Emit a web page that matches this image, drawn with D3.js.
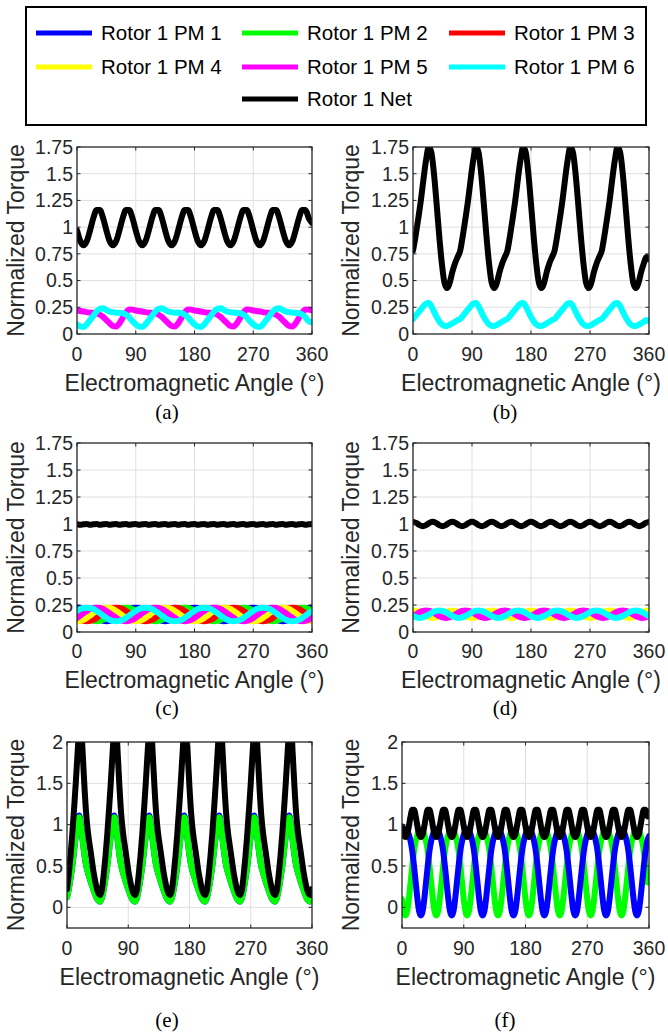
<!DOCTYPE html>
<html><head><meta charset="utf-8">
<script src="https://cdn.jsdelivr.net/npm/d3@7"></script>
<style>
body{margin:0;background:#fff;}
svg{display:block;}
</style></head><body>
<svg id="fig" width="668" height="1032"></svg>
<script>
// ---- legend entries ----
const seriesNames  = ["Rotor 1 PM 1","Rotor 1 PM 2","Rotor 1 PM 3","Rotor 1 PM 4","Rotor 1 PM 5","Rotor 1 PM 6","Rotor 1 Net"];
const seriesColors = ["#0000ff","#00ff00","#ff0000","#ffff00","#ff00ff","#00ffff","#000000"];

// ---- axis ticks ----
const xTicks = [0, 90, 180, 270, 360];
const yTicksFine = [0, 0.25, 0.5, 0.75, 1, 1.25, 1.5, 1.75];
const yTicksCoarse = [0, 0.5, 1, 1.5, 2];

// ---- sample angles (electrical degrees) ----
const angA = d3.range(0, 361, 5);
const angB = d3.range(0, 361, 4);
const angC = d3.range(0, 361, 5);
const angD = d3.range(0, 361, 5);
const angE = d3.range(0, 141).map(i => i * 360 / 140);
const angF = d3.range(0, 361, 2.5);

// ---- (a) ----
const aPM5 = [
 0.22,0.215,0.21,0.205,0.2,0.2,0.195,0.18,0.16,0.13,0.1,0.075,0.07,0.1,0.15,0.2,0.23,0.228,
 0.22,0.215,0.21,0.205,0.2,0.2,0.195,0.18,0.16,0.13,0.1,0.075,0.07,0.1,0.15,0.2,0.23,0.228,
 0.22,0.215,0.21,0.205,0.2,0.2,0.195,0.18,0.16,0.13,0.1,0.075,0.07,0.1,0.15,0.2,0.23,0.228,
 0.22,0.215,0.21,0.205,0.2,0.2,0.195,0.18,0.16,0.13,0.1,0.075,0.07,0.1,0.15,0.2,0.23,0.228,
 0.22];
const aPM6 = [
 0.09,0.07,0.065,0.09,0.13,0.17,0.21,0.235,0.24,0.225,0.21,0.205,0.2,0.2,0.195,0.18,0.155,0.12,
 0.09,0.07,0.065,0.09,0.13,0.17,0.21,0.235,0.24,0.225,0.21,0.205,0.2,0.2,0.195,0.18,0.155,0.12,
 0.09,0.07,0.065,0.09,0.13,0.17,0.21,0.235,0.24,0.225,0.21,0.205,0.2,0.2,0.195,0.18,0.155,0.12,
 0.09,0.07,0.065,0.09,0.13,0.17,0.21,0.235,0.24,0.225,0.21,0.205,0.2,0.2,0.195,0.18,0.155,0.12,
 0.11];
const aNet = [
 0.97,0.87,0.83,0.87,0.97,1.085,1.16,1.16,1.085,
 0.97,0.87,0.83,0.87,0.97,1.085,1.16,1.16,1.085,
 0.97,0.87,0.83,0.87,0.97,1.085,1.16,1.16,1.085,
 0.97,0.87,0.83,0.87,0.97,1.085,1.16,1.16,1.085,
 0.97,0.87,0.83,0.87,0.97,1.085,1.16,1.16,1.085,
 0.97,0.87,0.83,0.87,0.97,1.085,1.16,1.16,1.085,
 0.97,0.87,0.83,0.87,0.97,1.085,1.16,1.16,1.085,
 0.97,0.87,0.83,0.87,0.97,1.085,1.16,1.16,1.085,
 1.04];

// ---- (b) ----
const bPM6 = [
 0.14,0.17,0.2,0.23,0.26,0.285,0.29,0.26,0.21,0.16,0.12,0.09,0.075,0.075,0.085,0.1,0.115,0.13,
 0.14,0.17,0.2,0.23,0.26,0.285,0.29,0.26,0.21,0.16,0.12,0.09,0.075,0.075,0.085,0.1,0.115,0.13,
 0.14,0.17,0.2,0.23,0.26,0.285,0.29,0.26,0.21,0.16,0.12,0.09,0.075,0.075,0.085,0.1,0.115,0.13,
 0.14,0.17,0.2,0.23,0.26,0.285,0.29,0.26,0.21,0.16,0.12,0.09,0.075,0.075,0.085,0.1,0.115,0.13,
 0.14,0.17,0.2,0.23,0.26,0.285,0.29,0.26,0.21,0.16,0.12,0.09,0.075,0.075,0.085,0.1,0.115,0.13,
 0.12];
const bNet = [
 0.78,0.92,1.08,1.25,1.45,1.63,1.75,1.7,1.5,1.22,0.92,0.66,0.48,0.43,0.48,0.58,0.66,0.72,
 0.78,0.92,1.08,1.25,1.45,1.63,1.75,1.7,1.5,1.22,0.92,0.66,0.48,0.43,0.48,0.58,0.66,0.72,
 0.78,0.92,1.08,1.25,1.45,1.63,1.75,1.7,1.5,1.22,0.92,0.66,0.48,0.43,0.48,0.58,0.66,0.72,
 0.78,0.92,1.08,1.25,1.45,1.63,1.75,1.7,1.5,1.22,0.92,0.66,0.48,0.43,0.48,0.58,0.66,0.72,
 0.78,0.92,1.08,1.25,1.45,1.63,1.75,1.7,1.5,1.22,0.92,0.66,0.48,0.43,0.48,0.58,0.66,0.72,
 0.7];

// ---- (c) ----
const cPM1 = [
 0.225,0.222,0.212,0.195,0.175,0.152,0.13,0.113,0.103,0.1,0.103,0.113,0.13,0.152,0.175,0.195,0.212,0.222,
 0.225,0.222,0.212,0.195,0.175,0.152,0.13,0.113,0.103,0.1,0.103,0.113,0.13,0.152,0.175,0.195,0.212,0.222,
 0.225,0.222,0.212,0.195,0.175,0.152,0.13,0.113,0.103,0.1,0.103,0.113,0.13,0.152,0.175,0.195,0.212,0.222,
 0.225,0.222,0.212,0.195,0.175,0.152,0.13,0.113,0.103,0.1,0.103,0.113,0.13,0.152,0.175,0.195,0.212,0.222,
 0.225];
const cPM2 = [
 0.195,0.175,0.152,0.13,0.113,0.103,0.1,0.103,0.113,0.13,0.152,0.175,0.195,0.212,0.222,0.225,0.222,0.212,
 0.195,0.175,0.152,0.13,0.113,0.103,0.1,0.103,0.113,0.13,0.152,0.175,0.195,0.212,0.222,0.225,0.222,0.212,
 0.195,0.175,0.152,0.13,0.113,0.103,0.1,0.103,0.113,0.13,0.152,0.175,0.195,0.212,0.222,0.225,0.222,0.212,
 0.195,0.175,0.152,0.13,0.113,0.103,0.1,0.103,0.113,0.13,0.152,0.175,0.195,0.212,0.222,0.225,0.222,0.212,
 0.195];
const cPM3 = [
 0.13,0.113,0.103,0.1,0.103,0.113,0.13,0.152,0.175,0.195,0.212,0.222,0.225,0.222,0.212,0.195,0.175,0.152,
 0.13,0.113,0.103,0.1,0.103,0.113,0.13,0.152,0.175,0.195,0.212,0.222,0.225,0.222,0.212,0.195,0.175,0.152,
 0.13,0.113,0.103,0.1,0.103,0.113,0.13,0.152,0.175,0.195,0.212,0.222,0.225,0.222,0.212,0.195,0.175,0.152,
 0.13,0.113,0.103,0.1,0.103,0.113,0.13,0.152,0.175,0.195,0.212,0.222,0.225,0.222,0.212,0.195,0.175,0.152,
 0.13];
const cPM4 = [
 0.1,0.103,0.113,0.13,0.152,0.175,0.195,0.212,0.222,0.225,0.222,0.212,0.195,0.175,0.152,0.13,0.113,0.103,
 0.1,0.103,0.113,0.13,0.152,0.175,0.195,0.212,0.222,0.225,0.222,0.212,0.195,0.175,0.152,0.13,0.113,0.103,
 0.1,0.103,0.113,0.13,0.152,0.175,0.195,0.212,0.222,0.225,0.222,0.212,0.195,0.175,0.152,0.13,0.113,0.103,
 0.1,0.103,0.113,0.13,0.152,0.175,0.195,0.212,0.222,0.225,0.222,0.212,0.195,0.175,0.152,0.13,0.113,0.103,
 0.1];
const cPM5 = [
 0.13,0.152,0.175,0.195,0.212,0.222,0.225,0.222,0.212,0.195,0.175,0.152,0.13,0.113,0.103,0.1,0.103,0.113,
 0.13,0.152,0.175,0.195,0.212,0.222,0.225,0.222,0.212,0.195,0.175,0.152,0.13,0.113,0.103,0.1,0.103,0.113,
 0.13,0.152,0.175,0.195,0.212,0.222,0.225,0.222,0.212,0.195,0.175,0.152,0.13,0.113,0.103,0.1,0.103,0.113,
 0.13,0.152,0.175,0.195,0.212,0.222,0.225,0.222,0.212,0.195,0.175,0.152,0.13,0.113,0.103,0.1,0.103,0.113,
 0.13];
const cPM6 = [
 0.195,0.212,0.222,0.225,0.222,0.212,0.195,0.175,0.152,0.13,0.113,0.103,0.1,0.103,0.113,0.13,0.152,0.175,
 0.195,0.212,0.222,0.225,0.222,0.212,0.195,0.175,0.152,0.13,0.113,0.103,0.1,0.103,0.113,0.13,0.152,0.175,
 0.195,0.212,0.222,0.225,0.222,0.212,0.195,0.175,0.152,0.13,0.113,0.103,0.1,0.103,0.113,0.13,0.152,0.175,
 0.195,0.212,0.222,0.225,0.222,0.212,0.195,0.175,0.152,0.13,0.113,0.103,0.1,0.103,0.113,0.13,0.152,0.175,
 0.195];
const cNet = [
 1.0,0.993,0.997,1.0,0.993,0.997,1.0,0.993,0.997,1.0,0.993,0.997,1.0,0.993,0.997,1.0,0.993,0.997,
 1.0,0.993,0.997,1.0,0.993,0.997,1.0,0.993,0.997,1.0,0.993,0.997,1.0,0.993,0.997,1.0,0.993,0.997,
 1.0,0.993,0.997,1.0,0.993,0.997,1.0,0.993,0.997,1.0,0.993,0.997,1.0,0.993,0.997,1.0,0.993,0.997,
 1.0,0.993,0.997,1.0,0.993,0.997,1.0,0.993,0.997,1.0,0.993,0.997,1.0,0.993,0.997,1.0,0.993,0.997,
 1.0];

// ---- (d) ----
const dPM4 = [
 0.2,0.195,0.183,0.165,0.148,0.135,0.13,0.135,0.148,0.165,0.183,0.195,
 0.2,0.195,0.183,0.165,0.148,0.135,0.13,0.135,0.148,0.165,0.183,0.195,
 0.2,0.195,0.183,0.165,0.148,0.135,0.13,0.135,0.148,0.165,0.183,0.195,
 0.2,0.195,0.183,0.165,0.148,0.135,0.13,0.135,0.148,0.165,0.183,0.195,
 0.2,0.195,0.183,0.165,0.148,0.135,0.13,0.135,0.148,0.165,0.183,0.195,
 0.2,0.195,0.183,0.165,0.148,0.135,0.13,0.135,0.148,0.165,0.183,0.195,
 0.2];
const dPM5 = [
 0.148,0.165,0.183,0.195,0.2,0.195,0.183,0.165,0.148,0.135,0.13,0.135,
 0.148,0.165,0.183,0.195,0.2,0.195,0.183,0.165,0.148,0.135,0.13,0.135,
 0.148,0.165,0.183,0.195,0.2,0.195,0.183,0.165,0.148,0.135,0.13,0.135,
 0.148,0.165,0.183,0.195,0.2,0.195,0.183,0.165,0.148,0.135,0.13,0.135,
 0.148,0.165,0.183,0.195,0.2,0.195,0.183,0.165,0.148,0.135,0.13,0.135,
 0.148,0.165,0.183,0.195,0.2,0.195,0.183,0.165,0.148,0.135,0.13,0.135,
 0.148];
const dPM6 = [
 0.148,0.135,0.13,0.135,0.148,0.165,0.183,0.195,0.2,0.195,0.183,0.165,
 0.148,0.135,0.13,0.135,0.148,0.165,0.183,0.195,0.2,0.195,0.183,0.165,
 0.148,0.135,0.13,0.135,0.148,0.165,0.183,0.195,0.2,0.195,0.183,0.165,
 0.148,0.135,0.13,0.135,0.148,0.165,0.183,0.195,0.2,0.195,0.183,0.165,
 0.148,0.135,0.13,0.135,0.148,0.165,0.183,0.195,0.2,0.195,0.183,0.165,
 0.148,0.135,0.13,0.135,0.148,0.165,0.183,0.195,0.2,0.195,0.183,0.165,
 0.148];
const dNet = [
 1.02,1.01,0.99,0.98,0.99,1.01, 1.02,1.01,0.99,0.98,0.99,1.01, 1.02,1.01,0.99,0.98,0.99,1.01,
 1.02,1.01,0.99,0.98,0.99,1.01, 1.02,1.01,0.99,0.98,0.99,1.01, 1.02,1.01,0.99,0.98,0.99,1.01,
 1.02,1.01,0.99,0.98,0.99,1.01, 1.02,1.01,0.99,0.98,0.99,1.01, 1.02,1.01,0.99,0.98,0.99,1.01,
 1.02,1.01,0.99,0.98,0.99,1.01, 1.02,1.01,0.99,0.98,0.99,1.01, 1.02,1.01,0.99,0.98,0.99,1.01,
 1.02];

// ---- (e) ----
const ePM1 = [
 0.12,0.22,0.35,0.5,0.68,0.87,1.03,1.11,0.99,0.8,0.63,0.5,0.42,0.35,0.28,0.22,0.16,0.11,0.08,0.07,
 0.12,0.22,0.35,0.5,0.68,0.87,1.03,1.11,0.99,0.8,0.63,0.5,0.42,0.35,0.28,0.22,0.16,0.11,0.08,0.07,
 0.12,0.22,0.35,0.5,0.68,0.87,1.03,1.11,0.99,0.8,0.63,0.5,0.42,0.35,0.28,0.22,0.16,0.11,0.08,0.07,
 0.12,0.22,0.35,0.5,0.68,0.87,1.03,1.11,0.99,0.8,0.63,0.5,0.42,0.35,0.28,0.22,0.16,0.11,0.08,0.07,
 0.12,0.22,0.35,0.5,0.68,0.87,1.03,1.11,0.99,0.8,0.63,0.5,0.42,0.35,0.28,0.22,0.16,0.11,0.08,0.07,
 0.12,0.22,0.35,0.5,0.68,0.87,1.03,1.11,0.99,0.8,0.63,0.5,0.42,0.35,0.28,0.22,0.16,0.11,0.08,0.07,
 0.12,0.22,0.35,0.5,0.68,0.87,1.03,1.11,0.99,0.8,0.63,0.5,0.42,0.35,0.28,0.22,0.16,0.11,0.08,0.07,
 0.12];
const ePM2 = [
 0.12,0.22,0.35,0.5,0.68,0.86,1.02,1.09,0.98,0.8,0.63,0.5,0.42,0.35,0.28,0.22,0.16,0.11,0.08,0.07,
 0.12,0.22,0.35,0.5,0.68,0.86,1.02,1.09,0.98,0.8,0.63,0.5,0.42,0.35,0.28,0.22,0.16,0.11,0.08,0.07,
 0.12,0.22,0.35,0.5,0.68,0.86,1.02,1.09,0.98,0.8,0.63,0.5,0.42,0.35,0.28,0.22,0.16,0.11,0.08,0.07,
 0.12,0.22,0.35,0.5,0.68,0.86,1.02,1.09,0.98,0.8,0.63,0.5,0.42,0.35,0.28,0.22,0.16,0.11,0.08,0.07,
 0.12,0.22,0.35,0.5,0.68,0.86,1.02,1.09,0.98,0.8,0.63,0.5,0.42,0.35,0.28,0.22,0.16,0.11,0.08,0.07,
 0.12,0.22,0.35,0.5,0.68,0.86,1.02,1.09,0.98,0.8,0.63,0.5,0.42,0.35,0.28,0.22,0.16,0.11,0.08,0.07,
 0.12,0.22,0.35,0.5,0.68,0.86,1.02,1.09,0.98,0.8,0.63,0.5,0.42,0.35,0.28,0.22,0.16,0.11,0.08,0.07,
 0.12];
const eNet = [
 0.22,0.4,0.62,0.88,1.18,1.5,1.85,2.15,2.2,1.85,1.45,1.12,0.9,0.75,0.6,0.45,0.33,0.23,0.17,0.15,
 0.22,0.4,0.62,0.88,1.18,1.5,1.85,2.15,2.2,1.85,1.45,1.12,0.9,0.75,0.6,0.45,0.33,0.23,0.17,0.15,
 0.22,0.4,0.62,0.88,1.18,1.5,1.85,2.15,2.2,1.85,1.45,1.12,0.9,0.75,0.6,0.45,0.33,0.23,0.17,0.15,
 0.22,0.4,0.62,0.88,1.18,1.5,1.85,2.15,2.2,1.85,1.45,1.12,0.9,0.75,0.6,0.45,0.33,0.23,0.17,0.15,
 0.22,0.4,0.62,0.88,1.18,1.5,1.85,2.15,2.2,1.85,1.45,1.12,0.9,0.75,0.6,0.45,0.33,0.23,0.17,0.15,
 0.22,0.4,0.62,0.88,1.18,1.5,1.85,2.15,2.2,1.85,1.45,1.12,0.9,0.75,0.6,0.45,0.33,0.23,0.17,0.15,
 0.22,0.4,0.62,0.88,1.18,1.5,1.85,2.15,2.2,1.85,1.45,1.12,0.9,0.75,0.6,0.45,0.33,0.23,0.17,0.15,
 0.22];

// ---- (f) ----
const fPM1 = [
 0.88,0.93,0.95,0.93,0.88,0.8,0.68,0.5,0.3,0.1,-0.05,-0.1,-0.05,0.1,0.3,0.5,0.68,0.8,
 0.88,0.93,0.95,0.93,0.88,0.8,0.68,0.5,0.3,0.1,-0.05,-0.1,-0.05,0.1,0.3,0.5,0.68,0.8,
 0.88,0.93,0.95,0.93,0.88,0.8,0.68,0.5,0.3,0.1,-0.05,-0.1,-0.05,0.1,0.3,0.5,0.68,0.8,
 0.88,0.93,0.95,0.93,0.88,0.8,0.68,0.5,0.3,0.1,-0.05,-0.1,-0.05,0.1,0.3,0.5,0.68,0.8,
 0.88,0.93,0.95,0.93,0.88,0.8,0.68,0.5,0.3,0.1,-0.05,-0.1,-0.05,0.1,0.3,0.5,0.68,0.8,
 0.88,0.93,0.95,0.93,0.88,0.8,0.68,0.5,0.3,0.1,-0.05,-0.1,-0.05,0.1,0.3,0.5,0.68,0.8,
 0.88,0.93,0.95,0.93,0.88,0.8,0.68,0.5,0.3,0.1,-0.05,-0.1,-0.05,0.1,0.3,0.5,0.68,0.8,
 0.88,0.93,0.95,0.93,0.88,0.8,0.68,0.5,0.3,0.1,-0.05,-0.1,-0.05,0.1,0.3,0.5,0.68,0.8,
 0.86];
const fPM2 = [
 0.1,-0.05,-0.1,-0.05,0.1,0.3,0.5,0.68,0.8,0.88,0.93,0.95,0.93,0.88,0.8,0.68,0.5,0.3,
 0.1,-0.05,-0.1,-0.05,0.1,0.3,0.5,0.68,0.8,0.88,0.93,0.95,0.93,0.88,0.8,0.68,0.5,0.3,
 0.1,-0.05,-0.1,-0.05,0.1,0.3,0.5,0.68,0.8,0.88,0.93,0.95,0.93,0.88,0.8,0.68,0.5,0.3,
 0.1,-0.05,-0.1,-0.05,0.1,0.3,0.5,0.68,0.8,0.88,0.93,0.95,0.93,0.88,0.8,0.68,0.5,0.3,
 0.1,-0.05,-0.1,-0.05,0.1,0.3,0.5,0.68,0.8,0.88,0.93,0.95,0.93,0.88,0.8,0.68,0.5,0.3,
 0.1,-0.05,-0.1,-0.05,0.1,0.3,0.5,0.68,0.8,0.88,0.93,0.95,0.93,0.88,0.8,0.68,0.5,0.3,
 0.1,-0.05,-0.1,-0.05,0.1,0.3,0.5,0.68,0.8,0.88,0.93,0.95,0.93,0.88,0.8,0.68,0.5,0.3,
 0.1,-0.05,-0.1,-0.05,0.1,0.3,0.5,0.68,0.8,0.88,0.93,0.95,0.93,0.88,0.8,0.68,0.5,0.3,
 0.3];
const fNet = [
 0.98,0.88,0.85,0.88,0.98,1.1,1.18,1.18,1.1,0.98,0.88,0.85,0.88,0.98,1.1,1.18,1.18,1.1,
 0.98,0.88,0.85,0.88,0.98,1.1,1.18,1.18,1.1,0.98,0.88,0.85,0.88,0.98,1.1,1.18,1.18,1.1,
 0.98,0.88,0.85,0.88,0.98,1.1,1.18,1.18,1.1,0.98,0.88,0.85,0.88,0.98,1.1,1.18,1.18,1.1,
 0.98,0.88,0.85,0.88,0.98,1.1,1.18,1.18,1.1,0.98,0.88,0.85,0.88,0.98,1.1,1.18,1.18,1.1,
 0.98,0.88,0.85,0.88,0.98,1.1,1.18,1.18,1.1,0.98,0.88,0.85,0.88,0.98,1.1,1.18,1.18,1.1,
 0.98,0.88,0.85,0.88,0.98,1.1,1.18,1.18,1.1,0.98,0.88,0.85,0.88,0.98,1.1,1.18,1.18,1.1,
 0.98,0.88,0.85,0.88,0.98,1.1,1.18,1.18,1.1,0.98,0.88,0.85,0.88,0.98,1.1,1.18,1.18,1.1,
 0.98,0.88,0.85,0.88,0.98,1.1,1.18,1.18,1.1,0.98,0.88,0.85,0.88,0.98,1.1,1.18,1.18,1.1,
 1.16];

// ---- figure layout ----
const svg = d3.select("#fig");
const FONT = "'Liberation Sans', Arial, Helvetica, sans-serif";
const AXIS_COLOR = "#262626";
const GRID_COLOR = "#dfdfdf";

const S = (ang, vals, ci) => ({ang, vals, color: seriesColors[ci]});
const panels = [
  {cap:"(a)", l:77,  r:312, t:147, b:334, dom:[0,1.75], yt:yTicksFine, tickOff:27, titleOff:57, ylabX:16,  capX:167, capY:419,
   lines:[S(angA,aPM5,4), S(angA,aPM6,5), S(angA,aNet,6)]},
  {cap:"(b)", l:413, r:649, t:147, b:334, dom:[0,1.75], yt:yTicksFine, tickOff:27, titleOff:57, ylabX:351, capX:505, capY:419,
   lines:[S(angB,bPM6,5), S(angB,bNet,6)]},
  {cap:"(c)", l:77,  r:312, t:443, b:632, dom:[0,1.75], yt:yTicksFine, tickOff:26, titleOff:56, ylabX:16,  capX:167, capY:715,
   lines:[S(angC,cPM1,0), S(angC,cPM2,1), S(angC,cPM3,2), S(angC,cPM4,3), S(angC,cPM5,4), S(angC,cPM6,5), S(angC,cNet,6)]},
  {cap:"(d)", l:413, r:649, t:443, b:632, dom:[0,1.75], yt:yTicksFine, tickOff:26, titleOff:56, ylabX:351, capX:505, capY:715,
   lines:[S(angD,dPM4,3), S(angD,dPM5,4), S(angD,dPM6,5), S(angD,dNet,6)]},
  {cap:"(e)", l:67,  r:312, t:742, b:928, dom:[-0.25,2], yt:yTicksCoarse, tickOff:27, titleOff:57, ylabX:16,  capX:167, capY:1027,
   lines:[S(angE,ePM1,0), S(angE,ePM2,1), S(angE,eNet,6)]},
  {cap:"(f)", l:402, r:649, t:742, b:928, dom:[-0.25,2], yt:yTicksCoarse, tickOff:27, titleOff:57, ylabX:351, capX:505, capY:1027,
   lines:[S(angF,fPM2,1), S(angF,fPM1,0), S(angF,fNet,6)]}
];

panels.forEach((p, pi) => {
  const x = d3.scaleLinear().domain([0, 360]).range([p.l, p.r]);
  const y = d3.scaleLinear().domain(p.dom).range([p.b, p.t]);
  const g = svg.append("g");

  // grid
  g.append("g").selectAll("line").data(xTicks.slice(1, -1)).join("line")
    .attr("x1", d => x(d)).attr("x2", d => x(d)).attr("y1", p.t).attr("y2", p.b)
    .attr("stroke", GRID_COLOR).attr("stroke-width", 1);
  g.append("g").selectAll("line").data(p.yt.filter(v => y(v) > p.t + 1 && y(v) < p.b - 1)).join("line")
    .attr("x1", p.l).attr("x2", p.r).attr("y1", d => y(d)).attr("y2", d => y(d))
    .attr("stroke", GRID_COLOR).attr("stroke-width", 1);

  // curves
  const clipId = "clip" + pi;
  g.append("clipPath").attr("id", clipId).append("rect")
    .attr("x", p.l).attr("y", p.t).attr("width", p.r - p.l).attr("height", p.b - p.t);
  const line = d3.line().x(d => x(d[0])).y(d => y(d[1])).curve(d3.curveMonotoneX);
  const lg = g.append("g").attr("clip-path", `url(#${clipId})`);
  p.lines.forEach(s => {
    lg.append("path")
      .attr("d", line(s.ang.map((a, i) => [a, s.vals[i]])))
      .attr("fill", "none").attr("stroke", s.color).attr("stroke-width", 6)
      .attr("stroke-linejoin", "round").attr("stroke-linecap", "round");
  });

  // box and inward ticks
  g.append("rect").attr("x", p.l).attr("y", p.t).attr("width", p.r - p.l).attr("height", p.b - p.t)
    .attr("fill", "none").attr("stroke", AXIS_COLOR).attr("stroke-width", 1.3);
  const tk = 3.5;
  xTicks.forEach(v => {
    g.append("line").attr("x1", x(v)).attr("x2", x(v)).attr("y1", p.b).attr("y2", p.b - tk).attr("stroke", AXIS_COLOR);
    g.append("line").attr("x1", x(v)).attr("x2", x(v)).attr("y1", p.t).attr("y2", p.t + tk).attr("stroke", AXIS_COLOR);
  });
  p.yt.forEach(v => {
    g.append("line").attr("x1", p.l).attr("x2", p.l + tk).attr("y1", y(v)).attr("y2", y(v)).attr("stroke", AXIS_COLOR);
    g.append("line").attr("x1", p.r).attr("x2", p.r - tk).attr("y1", y(v)).attr("y2", y(v)).attr("stroke", AXIS_COLOR);
  });

  // tick labels
  g.append("g").selectAll("text").data(xTicks).join("text")
    .attr("x", d => x(d)).attr("y", p.b + p.tickOff)
    .attr("text-anchor", "middle").attr("font-family", FONT).attr("font-size", 19.5)
    .attr("fill", AXIS_COLOR).text(d => d);
  g.append("g").selectAll("text").data(p.yt).join("text")
    .attr("x", p.l - 4).attr("y", d => y(d)).attr("dy", "0.35em")
    .attr("text-anchor", "end").attr("font-family", FONT).attr("font-size", 19.5)
    .attr("fill", AXIS_COLOR).text(d => d);

  // axis titles
  g.append("text").attr("x", (p.l + p.r) / 2).attr("y", p.b + p.titleOff)
    .attr("text-anchor", "middle").attr("font-family", FONT).attr("font-size", 23)
    .attr("fill", AXIS_COLOR).text("Electromagnetic Angle (°)");
  g.append("text")
    .attr("transform", `translate(${p.ylabX},${(p.t + p.b) / 2}) rotate(-90)`)
    .attr("dy", "0.35em").attr("text-anchor", "middle").attr("font-family", FONT).attr("font-size", 23)
    .attr("fill", AXIS_COLOR).text("Normalized Torque");

  // sub-caption
  g.append("text").attr("x", p.capX).attr("y", p.capY)
    .attr("text-anchor", "middle").attr("font-family", "'Liberation Serif', 'Times New Roman', serif")
    .attr("font-size", 21).attr("fill", "#000").text(p.cap);
});

// ---- legend ----
const leg = svg.append("g");
leg.append("rect").attr("x", 26).attr("y", 7).attr("width", 620).attr("height", 118)
  .attr("fill", "#fff").attr("stroke", "#000").attr("stroke-width", 2);
const legCols = [36, 242, 449];
const legRows = [33, 67, 99];
seriesNames.forEach((name, i) => {
  const col = i < 6 ? i % 3 : 1;
  const row = i < 6 ? Math.floor(i / 3) : 2;
  const lx = legCols[col], ly = legRows[row];
  leg.append("line").attr("x1", lx).attr("x2", lx + 56).attr("y1", ly).attr("y2", ly)
    .attr("stroke", seriesColors[i]).attr("stroke-width", 5);
  leg.append("text").attr("x", lx + 65).attr("y", ly).attr("dy", "0.36em")
    .attr("font-family", FONT).attr("font-size", 20.5).attr("fill", "#000").text(name);
});
</script>
</body></html>
